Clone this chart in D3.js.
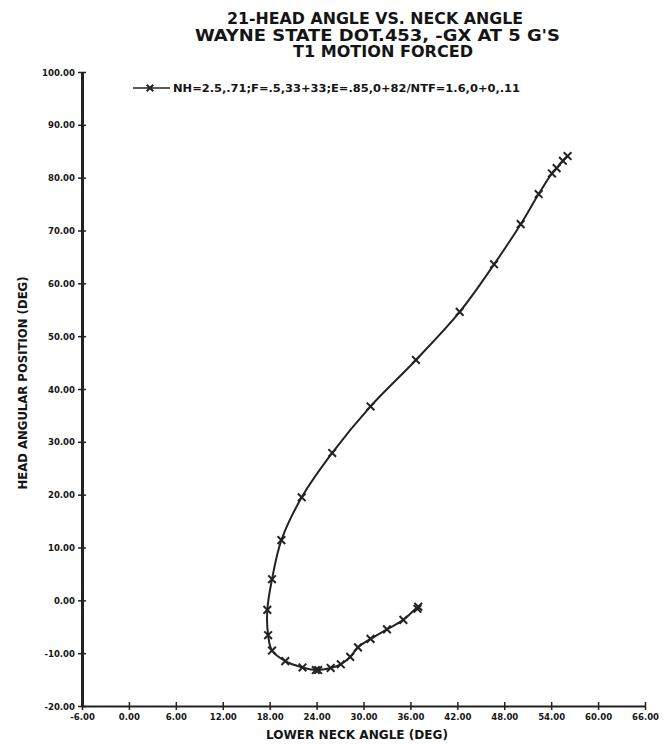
<!DOCTYPE html>
<html>
<head>
<meta charset="utf-8">
<script src="https://cdn.jsdelivr.net/npm/d3@7"></script>
<style>
  html, body { margin: 0; padding: 0; background: #fff; }
  svg { display: block; }
  text { font-family: "DejaVu Sans Condensed", "DejaVu Sans", sans-serif; font-weight: bold; fill: #151515; }
</style>
</head>
<body>
<svg id="chart" width="664" height="747"></svg>
<script>
// ---- data ----
const titleLines = ["21-HEAD ANGLE VS. NECK ANGLE", "WAYNE STATE DOT.453, -GX AT 5 G'S", "T1 MOTION FORCED"];
const xLabel = "LOWER NECK ANGLE (DEG)";
const yLabel = "HEAD ANGULAR POSITION (DEG)";
const legendLabel = "NH=2.5,.71;F=.5,33+33;E=.85,0+82/NTF=1.6,0+0,.11";
const xTicks = [-6, 0, 6, 12, 18, 24, 30, 36, 42, 48, 54, 60, 66];
const yTicks = [-20, -10, 0, 10, 20, 30, 40, 50, 60, 70, 80, 90, 100];
// lower neck angle (deg) and head angular position (deg), in time order
const neckAngle = [36.9, 37.0, 35.1, 33.0, 30.9, 29.3, 28.3, 27.1, 25.8, 24.2, 23.9, 22.2, 20.0, 18.3, 17.8, 17.7, 18.3, 19.5, 22.1, 26.0, 30.9, 36.7, 42.3, 46.7, 50.1, 52.4, 54.1, 54.7, 55.5, 56.1];
const headAngle = [-1.6, -1.2, -3.7, -5.5, -7.3, -8.9, -10.7, -12.1, -12.8, -13.2, -13.2, -12.7, -11.5, -9.5, -6.6, -1.8, 4.0, 11.4, 19.5, 27.9, 36.7, 45.5, 54.6, 63.6, 71.2, 76.9, 80.8, 81.8, 83.2, 84.1];

const pts = neckAngle.map((v, i) => ({x: v, y: headAngle[i]}));

const svg = d3.select("#chart");
const x = d3.scaleLinear().domain([-6, 66]).range([82, 645]);
const y = d3.scaleLinear().domain([-20, 100]).range([706, 72]);

// title
const titleX = [375, 377.5, 383];
const titleY = [24, 40.5, 57];
const titleW = [296, 365, 180];
titleLines.forEach((t, i) => {
  svg.append("text").attr("x", titleX[i]).attr("y", titleY[i])
    .attr("text-anchor", "middle").attr("font-size", 15.5)
    .attr("textLength", titleW[i]).attr("lengthAdjust", "spacingAndGlyphs")
    .text(t);
});

// x axis
const gx = svg.append("g").attr("transform", `translate(0,${y(-20)})`)
  .call(d3.axisBottom(x).tickValues(xTicks).tickFormat(d => d.toFixed(2)).tickSizeInner(4).tickSizeOuter(0).tickPadding(3));
gx.select(".domain").attr("stroke", "#222").attr("stroke-width", 2);
gx.selectAll(".tick line").attr("y1", -4).attr("stroke", "#222").attr("stroke-width", 1.5);
gx.selectAll(".tick text").attr("font-size", 9.5).attr("font-family", "DejaVu Sans Condensed").attr("font-weight", "bold").attr("fill", "#151515");

// y axis
const gy = svg.append("g").attr("transform", `translate(${x(-6)},0)`)
  .call(d3.axisLeft(y).tickValues(yTicks).tickFormat(d => d.toFixed(2)).tickSizeInner(4).tickSizeOuter(0).tickPadding(3));
gy.select(".domain").attr("stroke", "#222").attr("stroke-width", 3);
gy.selectAll(".tick line").attr("x1", 4).attr("stroke", "#222").attr("stroke-width", 1.5);
gy.selectAll(".tick text").attr("font-size", 9.5).attr("font-family", "DejaVu Sans Condensed").attr("font-weight", "bold").attr("fill", "#151515");

// axis titles
svg.append("text").attr("x", 357).attr("y", 739).attr("text-anchor", "middle")
  .attr("font-size", 13).attr("textLength", 182).attr("lengthAdjust", "spacingAndGlyphs").text(xLabel);
svg.append("text").attr("transform", "translate(27,383) rotate(-90)").attr("text-anchor", "middle")
  .attr("font-size", 12).attr("textLength", 213).attr("lengthAdjust", "spacingAndGlyphs").text(yLabel);

// curve
const line = d3.line().x(d => x(d.x)).y(d => y(d.y)).curve(d3.curveCatmullRom.alpha(0.5));
svg.append("path").datum(pts).attr("d", line).attr("fill", "none").attr("stroke", "#222").attr("stroke-width", 2);

const sym = d3.symbol().type(d3.symbolTimes).size(40);
svg.append("g").selectAll("path").data(pts).join("path")
  .attr("transform", d => `translate(${x(d.x)},${y(d.y)})`)
  .attr("d", sym).attr("fill", "none").attr("stroke", "#222").attr("stroke-width", 2);

// legend
const lg = svg.append("g");
lg.append("line").attr("x1", 133).attr("x2", 170).attr("y1", 88).attr("y2", 88).attr("stroke", "#222").attr("stroke-width", 1.5);
lg.append("path").attr("transform", "translate(150,88)").attr("d", d3.symbol().type(d3.symbolTimes).size(30)).attr("fill", "none").attr("stroke", "#222").attr("stroke-width", 2);
lg.append("text").attr("x", 173).attr("y", 92).attr("font-size", 10)
  .attr("textLength", 347).attr("lengthAdjust", "spacingAndGlyphs").text(legendLabel);
</script>
</body>
</html>
